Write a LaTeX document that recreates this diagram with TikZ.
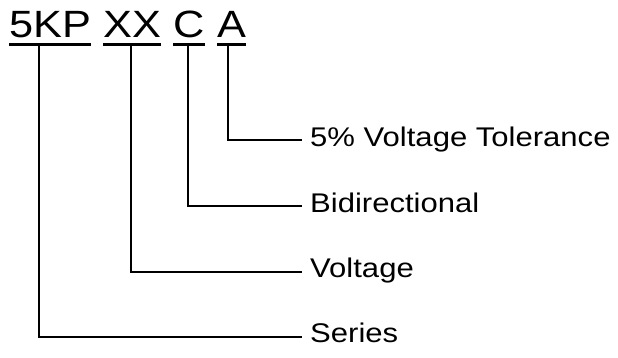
\documentclass[tikz,border=0pt]{standalone}
\usepackage{fontspec}
\setmainfont{Liberation Sans}
\newfontfamily\topfont[FakeStretch=1.14]{Liberation Sans}
\newfontfamily\lblfont[FakeStretch=1.15]{Liberation Sans}
\begin{document}
\begin{tikzpicture}[x=1pt,y=-1pt,
  part/.style={anchor=base west, inner sep=0pt, font=\topfont\fontsize{38}{38}\selectfont},
  lbl/.style={anchor=mid west, inner sep=0pt, yshift=-3.5pt, font=\lblfont\fontsize{27}{27}\selectfont},
  ul/.style={line width=3pt},
  conn/.style={line width=1.7pt}]
\useasboundingbox (0,0) rectangle (618,358);
% part number
\node[part] (p1) at (9,38) {5KP};
\node[part] (p2) at (103,38) {XX};
\node[part] (p3) at (173,38) {C};
\node[part] (p4) at (217,38) {A};
\foreach \p in {p1,p2,p3,p4}
  \draw[ul] ([yshift=-6.3pt]\p.base west) -- ([yshift=-6.3pt]\p.base east);
% tap points under the underlines
\coordinate (t1) at (39,45.5);
\coordinate (t2) at (131,45.5);
\coordinate (t3) at (188,45.5);
\coordinate (t4) at (228,45.5);
% ends of horizontal leaders
\coordinate (e4) at (302,140.3);
\coordinate (e3) at (302,206);
\coordinate (e2) at (302,271.7);
\coordinate (e1) at (302,336.7);
% labels
\node[lbl] (l4) at (310,140.3) {5\% Voltage Tolerance};
\node[lbl] (l3) at (310,206) {Bidirectional};
\node[lbl] (l2) at (310,271.7) {Voltage};
\node[lbl] (l1) at (310,336.7) {Series};
% connectors
\draw[conn] (t4) |- (e4);
\draw[conn] (t3) |- (e3);
\draw[conn] (t2) |- (e2);
\draw[conn] (t1) |- (e1);
\end{tikzpicture}
\end{document}
